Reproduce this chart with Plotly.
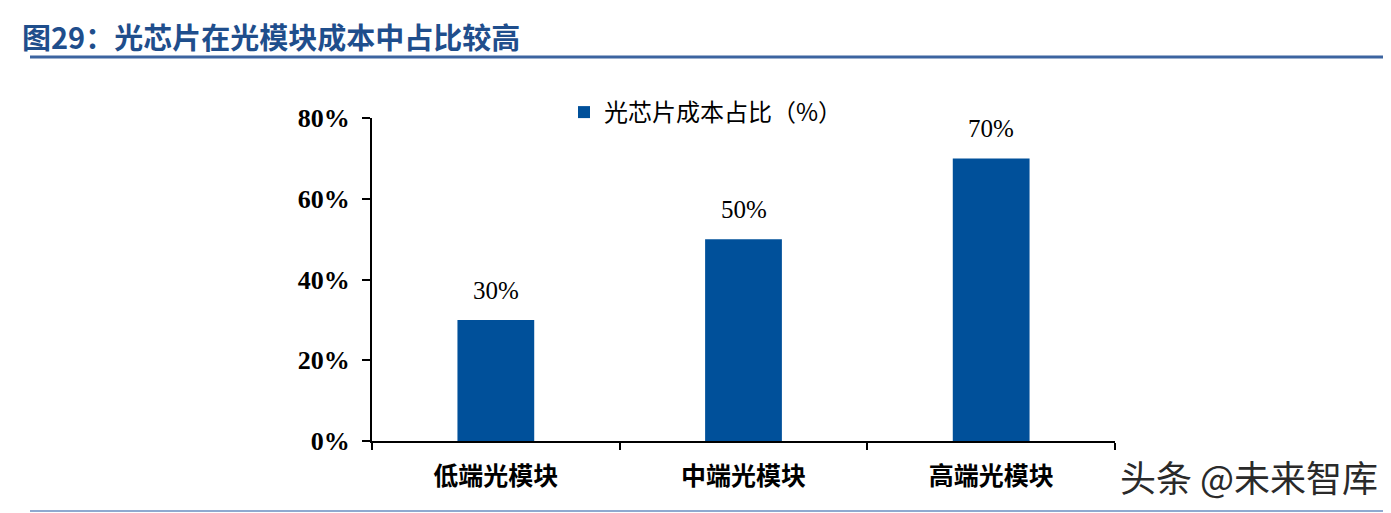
import plotly.graph_objects as go

categories = ["低端光模块", "中端光模块", "高端光模块"]
values = [30, 50, 70]
value_labels = ["30%", "50%", "70%"]
series_name = "光芯片成本占比（%）"
y_ticks = [0, 20, 40, 60, 80]
y_tick_labels = ["0%", "20%", "40%", "60%", "80%"]
title_text = "图29：光芯片在光模块成本中占比较高"
watermark = "头条 @未来智库"

OFF = 8  # page body margin
W, H = 1391 - OFF, 513 - OFF
L, T = 372 - OFF, 118 - OFF
R = W - (1115 - OFF)
B = H - (441 - OFF)
pw, ph = W - L - R, H - T - B

def px_x(p):
    return (p - OFF - L) / pw

def px_y(p):
    return (H - B - (p - OFF)) / ph

BAR = "#00509A"
SERIF = "Liberation Serif, Times New Roman, serif"
CJK = "Noto Sans CJK SC, sans-serif"

fig = go.Figure()
fig.add_trace(go.Bar(
    x=categories, y=values, name=series_name,
    marker=dict(color=BAR, line=dict(width=0)),
    width=0.31, showlegend=True,
))

annotations = []
for c, v, t in zip(categories, values, value_labels):
    annotations.append(dict(x=c, y=v, xref="x", yref="y", text=t, showarrow=False,
                            yanchor="bottom", yshift=14,
                            font=dict(family=SERIF, size=25, color="#000")))

annotations.append(dict(x=px_x(20), y=px_y(36), xref="paper", yref="paper", text=f"<b>{title_text}</b>",
                        showarrow=False, xanchor="left", yanchor="middle",
                        font=dict(family=CJK, size=29, color="#1F4E8C")))
annotations.append(dict(x=px_x(1118), y=px_y(476), xref="paper", yref="paper", text=watermark,
                        showarrow=False, xanchor="left", yanchor="middle",
                        font=dict(family=CJK, size=36, color="#2a2a2a")))

shapes = [
    dict(type="line", xref="paper", yref="paper", x0=px_x(30), x1=px_x(1400), y0=px_y(57), y1=px_y(57),
         line=dict(color="#3C64A0", width=3)),
    dict(type="line", xref="paper", yref="paper", x0=px_x(30), x1=px_x(1400), y0=px_y(511), y1=px_y(511),
         line=dict(color="#6A8CC0", width=1.5)),
]

fig.update_layout(
    width=W, height=H,
    margin=dict(l=L, r=R, t=T, b=B, autoexpand=False),
    plot_bgcolor="white", paper_bgcolor="white",
    annotations=annotations, shapes=shapes,
    showlegend=True,
    legend=dict(x=px_x(564), y=px_y(90), xanchor="left", yanchor="top",
                orientation="h", bgcolor="rgba(0,0,0,0)",
                font=dict(family=CJK, size=24, color="#000")),
    xaxis=dict(
        type="category", range=[-0.5, 2.5], tickson="boundaries",
        showline=True, linecolor="#000", linewidth=2, showgrid=False,
        ticks="outside", ticklen=7, tickwidth=2, tickcolor="#000",
        ticklabelstandoff=12,
        tickfont=dict(family=CJK, size=25, color="#000"),
    ),
    yaxis=dict(
        range=[0, 80], tickmode="array", tickvals=y_ticks,
        ticktext=[f"<b>{t}</b>" for t in y_tick_labels],
        showline=True, linecolor="#000", linewidth=2, showgrid=False, zeroline=False,
        ticks="outside", ticklen=8, tickwidth=2, tickcolor="#000",
        ticklabelstandoff=7,
        tickfont=dict(family=SERIF, size=26, color="#000"),
    ),
    bargap=0.69,
)
fig.update_xaxes(tickvals=categories, ticktext=[f"<b>{c}</b>" for c in categories])

fig.write_html("out.html")
